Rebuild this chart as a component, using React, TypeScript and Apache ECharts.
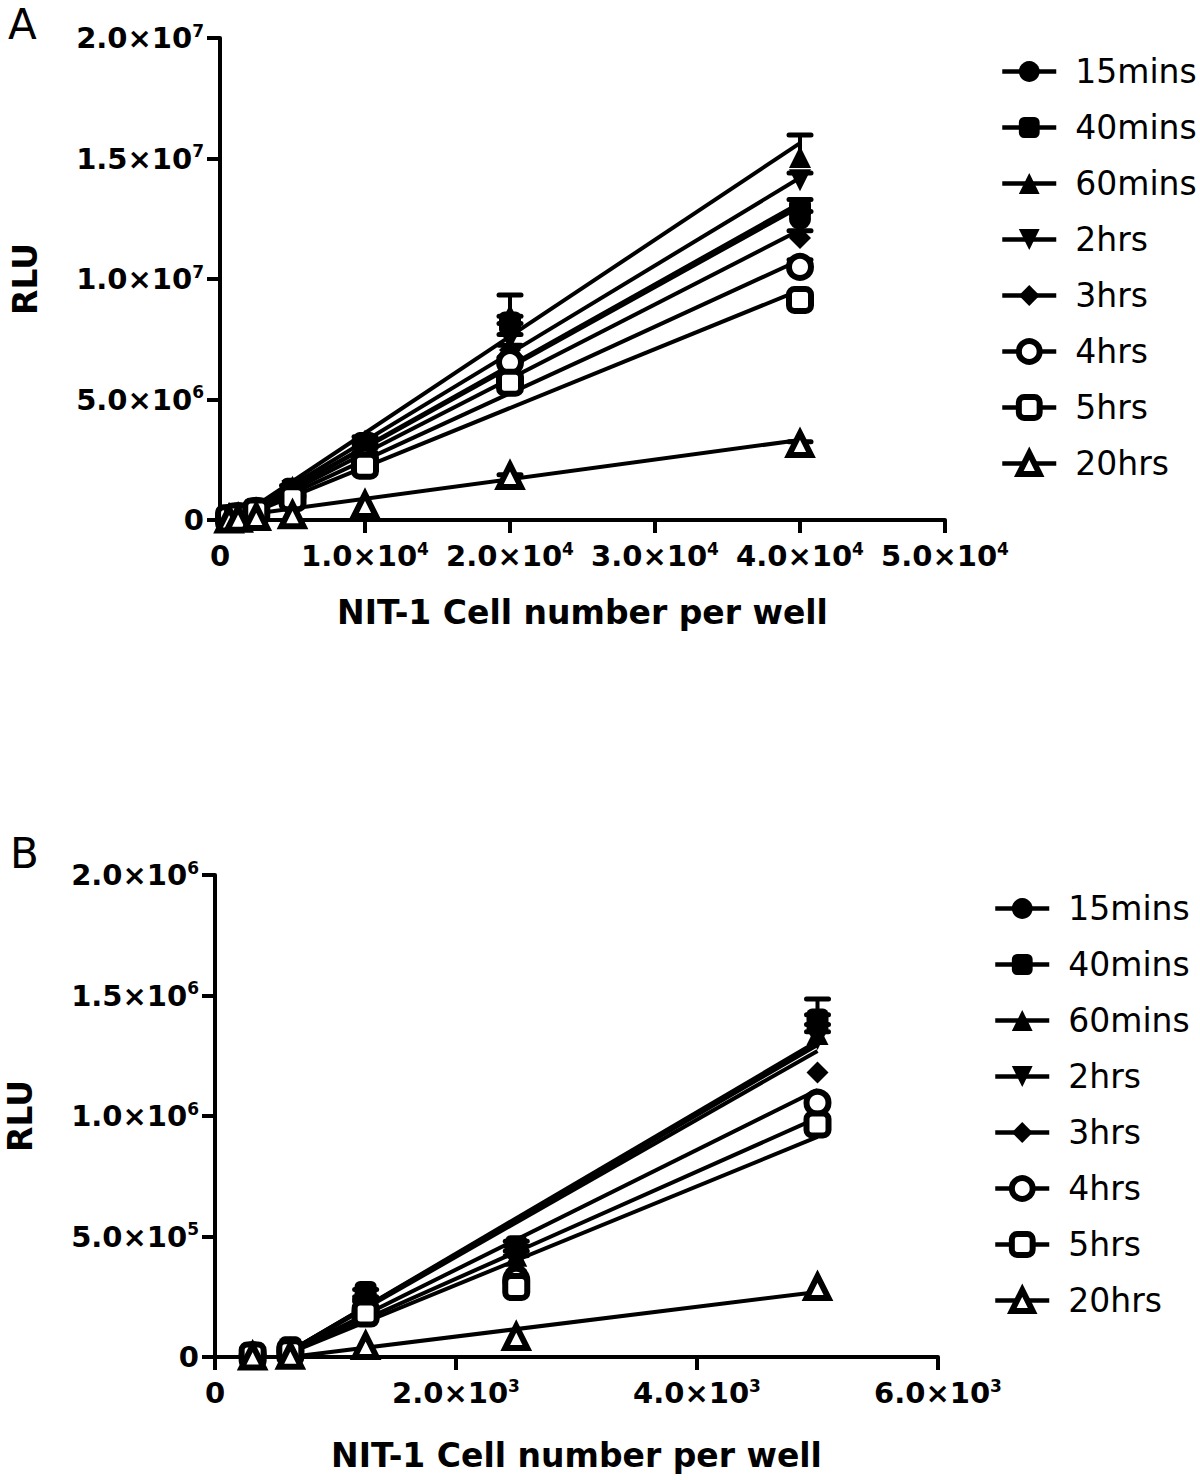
import React, { useEffect, useRef } from 'react';
import * as echarts from 'echarts';

// ---------- data ----------
const seriesNames = ['15mins', '40mins', '60mins', '2hrs', '3hrs', '4hrs', '5hrs', '20hrs'];

// Panel A: NIT-1 cell number per well (x) vs RLU
const cellsA = [625, 1250, 2500, 5000, 10000, 20000, 40000];
const rluA_15mins = [0.1e6, 0.2e6, 0.45e6, 1.25e6, 3.05e6, 7.95e6, 12.5e6];
const rluA_40mins = [0.1e6, 0.2e6, 0.47e6, 1.3e6, 3.2e6, 8.2e6, 12.9e6];
const rluA_60mins = [0.11e6, 0.22e6, 0.5e6, 1.38e6, 3.3e6, 8.5e6, 15.06e6];
const rluA_2hrs = [0.09e6, 0.18e6, 0.42e6, 1.2e6, 2.9e6, 7.5e6, 14.1e6];
const rluA_3hrs = [0.08e6, 0.17e6, 0.4e6, 1.1e6, 2.7e6, 7.05e6, 11.7e6];
const rluA_4hrs = [0.08e6, 0.16e6, 0.38e6, 1.0e6, 2.5e6, 6.55e6, 10.5e6];
const rluA_5hrs = [0.07e6, 0.15e6, 0.35e6, 0.9e6, 2.25e6, 5.7e6, 9.13e6];
const rluA_20hrs = [0.02e6, 0.05e6, 0.12e6, 0.2e6, 0.62e6, 1.83e6, 3.15e6];
// upper error (SEM)
const errA_15mins = [0, 0, 0, 0, 0.1e6, 0.2e6, 0.3e6];
const errA_40mins = [0, 0, 0, 0, 0.1e6, 0.25e6, 0.4e6];
const errA_60mins = [0, 0, 0, 0.05e6, 0.15e6, 0.84e6, 0.92e6];
const errA_2hrs = [0, 0, 0, 0, 0.1e6, 0.2e6, 0.3e6];
const errA_3hrs = [0, 0, 0, 0, 0.1e6, 0.2e6, 0.3e6];
const errA_4hrs = [0, 0, 0, 0, 0.1e6, 0.2e6, 0.3e6];
const errA_5hrs = [0, 0, 0, 0, 0.1e6, 0.2e6, 0.3e6];
const errA_20hrs = [0, 0, 0, 0, 0, 0.05e6, 0.1e6];
// linear-fit line end points (cells, RLU)
const fitA_x = [1000, 40000];
const fitA_15mins = [0, 13.0e6];
const fitA_40mins = [0, 13.15e6];
const fitA_60mins = [0, 15.64e6];
const fitA_2hrs = [0, 14.2e6];
const fitA_3hrs = [0, 12.03e6];
const fitA_4hrs = [0, 10.79e6];
const fitA_5hrs = [0, 9.54e6];
const fitA_20hrs_x = [625, 40000];
const fitA_20hrs = [0.12e6, 3.32e6];

// Panel B
const cellsB = [312.5, 625, 1250, 2500, 5000];
const rluB_15mins = [0.01e6, 0.035e6, 0.24e6, 0.44e6, 1.37e6];
const rluB_40mins = [0.01e6, 0.04e6, 0.27e6, 0.46e6, 1.4e6];
const rluB_60mins = [0.01e6, 0.035e6, 0.23e6, 0.42e6, 1.34e6];
const rluB_2hrs = [0.01e6, 0.03e6, 0.22e6, 0.4e6, 1.32e6];
const rluB_3hrs = [0.008e6, 0.03e6, 0.2e6, 0.36e6, 1.18e6];
const rluB_4hrs = [0.008e6, 0.025e6, 0.19e6, 0.32e6, 1.055e6];
const rluB_5hrs = [0.006e6, 0.02e6, 0.18e6, 0.29e6, 0.965e6];
const rluB_20hrs = [0.002e6, 0.005e6, 0.046e6, 0.083e6, 0.29e6];
const errB_15mins = [0, 0, 0.01e6, 0.02e6, 0.05e6];
const errB_40mins = [0, 0, 0.01e6, 0.02e6, 0.085e6];
const errB_60mins = [0, 0, 0.01e6, 0.02e6, 0.04e6];
const errB_2hrs = [0, 0, 0.01e6, 0.02e6, 0.03e6];
const errB_3hrs = [0, 0, 0, 0, 0];
const errB_4hrs = [0, 0, 0, 0, 0];
const errB_5hrs = [0, 0, 0, 0, 0];
const errB_20hrs = [0, 0, 0, 0, 0];
const fitB_x = [540, 5000];
const fitB_15mins = [0, 1.3e6];
const fitB_40mins = [0, 1.31e6];
const fitB_60mins = [0, 1.295e6];
const fitB_2hrs = [0, 1.27e6];
const fitB_3hrs = [0, 1.108e6];
const fitB_4hrs = [0, 0.992e6];
const fitB_5hrs = [0, 0.913e6];
const fitB_20hrs_x = [625, 5000];
const fitB_20hrs = [0, 0.27e6];

// axis ranges / ticks
const xA_max = 50000, xA_step = 10000;
const yA_max = 2e7, yA_step = 5e6;
const xB_max = 6000, xB_step = 2000;
const yB_max = 2e6, yB_step = 5e5;

const xTitle = 'NIT-1 Cell number per well';
const yTitle = 'RLU';

// ---------- styles ----------
const FONT = 'DejaVu Sans';
const symbols = ['circle', 'roundRect', 'triangle', 'path://M0,0L20,0L10,18Z', 'diamond', 'circle', 'roundRect', 'triangle'];
const hollow = [false, false, false, false, false, true, true, true];

function itemStyleFor(i: number) {
  return hollow[i]
    ? { color: '#fff', borderColor: '#000', borderWidth: 6, opacity: 1 }
    : { color: '#000', borderColor: '#000', borderWidth: 0, opacity: 1 };
}

function sci(v: number) {
  if (v === 0) return '{m|0}';
  const e = Math.floor(Math.log10(v) + 1e-9);
  const m = v / Math.pow(10, e);
  return `{m|${m.toFixed(1)}×10}{s|${e}}`;
}

const rich = {
  m: { fontSize: 29, fontWeight: 'bold', fontFamily: FONT, color: '#000', lineHeight: 32 },
  s: { fontSize: 17, fontWeight: 'bold', fontFamily: FONT, color: '#000', lineHeight: 13, verticalAlign: 'top' },
};

export default function App() {
  const ref = useRef<HTMLDivElement>(null);
  useEffect(() => {
    if (!ref.current) return;
    const chart = echarts.init(ref.current, null, { renderer: 'svg' });

    const panels = [
      {
        xs: cellsA,
        vals: [rluA_15mins, rluA_40mins, rluA_60mins, rluA_2hrs, rluA_3hrs, rluA_4hrs, rluA_5hrs, rluA_20hrs],
        errs: [errA_15mins, errA_40mins, errA_60mins, errA_2hrs, errA_3hrs, errA_4hrs, errA_5hrs, errA_20hrs],
        fitsX: [fitA_x, fitA_x, fitA_x, fitA_x, fitA_x, fitA_x, fitA_x, fitA_20hrs_x],
        fits: [fitA_15mins, fitA_40mins, fitA_60mins, fitA_2hrs, fitA_3hrs, fitA_4hrs, fitA_5hrs, fitA_20hrs],
      },
      {
        xs: cellsB,
        vals: [rluB_15mins, rluB_40mins, rluB_60mins, rluB_2hrs, rluB_3hrs, rluB_4hrs, rluB_5hrs, rluB_20hrs],
        errs: [errB_15mins, errB_40mins, errB_60mins, errB_2hrs, errB_3hrs, errB_4hrs, errB_5hrs, errB_20hrs],
        fitsX: [fitB_x, fitB_x, fitB_x, fitB_x, fitB_x, fitB_x, fitB_x, fitB_20hrs_x],
        fits: [fitB_15mins, fitB_40mins, fitB_60mins, fitB_2hrs, fitB_3hrs, fitB_4hrs, fitB_5hrs, fitB_20hrs],
      },
    ];

    const series: any[] = [];
    // fit lines first (legend picks the first series with a given name)
    panels.forEach((p, pi) => {
      seriesNames.forEach((name, i) => {
        series.push({
          type: 'line',
          name,
          xAxisIndex: pi,
          yAxisIndex: pi,
          data: p.fitsX[i].map((x, k) => [x, p.fits[i][k]]),
          showSymbol: false,
          symbol: symbols[i],
          symbolSize: 22,
          lineStyle: { color: '#000', width: 4 },
          itemStyle: itemStyleFor(i),
          silent: true,
          z: 2,
        });
      });
    });
    panels.forEach((p, pi) => {
      const errData: number[][] = [];
      seriesNames.forEach((_, i) => {
        p.xs.forEach((x, j) => {
          if (p.errs[i][j] > 0) errData.push([x, p.vals[i][j], p.vals[i][j] + p.errs[i][j]]);
        });
      });
      series.push({
        type: 'custom',
        name: 'errorbars' + pi,
        xAxisIndex: pi,
        yAxisIndex: pi,
        data: errData,
        encode: { x: 0, y: [1, 2] },
        silent: true,
        z: 3,
        renderItem: (params: any, api: any) => {
          const x = api.value(0), y = api.value(1), top = api.value(2);
          const p0 = api.coord([x, y]);
          const p1 = api.coord([x, top]);
          const hw = 11;
          return {
            type: 'group',
            children: [
              { type: 'line', shape: { x1: p0[0], y1: p0[1], x2: p1[0], y2: p1[1] }, style: { stroke: '#000', lineWidth: 4 } },
              { type: 'line', shape: { x1: p1[0] - hw, y1: p1[1], x2: p1[0] + hw, y2: p1[1] }, style: { stroke: '#000', lineWidth: 5, lineCap: 'round' } },
            ],
          };
        },
      });
      seriesNames.forEach((name, i) => {
        series.push({
          type: 'scatter',
          name,
          xAxisIndex: pi,
          yAxisIndex: pi,
          data: p.xs.map((x, j) => [x, p.vals[i][j]]),
          symbol: symbols[i],
          symbolSize: 22,
          itemStyle: itemStyleFor(i),
          silent: true,
          z: 4,
        });
      });
    });

    const axisLine = { show: true, onZero: false, lineStyle: { color: '#000', width: 4 } };
    const axisTick = { show: true, length: 13, lineStyle: { color: '#000', width: 4 } };
    const nameStyle = { fontSize: 33, fontWeight: 'bold', fontFamily: FONT, color: '#000' };

    const mkX = (gi: number, max: number, step: number, gap: number) => ({
      type: 'value', gridIndex: gi, min: 0, max, interval: step,
      axisLine, axisTick, splitLine: { show: false },
      axisLabel: { formatter: sci, rich, margin: 20, showMinLabel: true, showMaxLabel: true },
      name: xTitle, nameLocation: 'middle', nameGap: gap, nameTextStyle: nameStyle,
    });
    const mkY = (gi: number, max: number, step: number) => ({
      type: 'value', gridIndex: gi, min: 0, max, interval: step,
      axisLine, axisTick, splitLine: { show: false },
      axisLabel: { formatter: sci, rich, margin: 16, showMinLabel: true, showMaxLabel: true },
      name: yTitle, nameLocation: 'middle', nameGap: 178, nameTextStyle: nameStyle,
    });

    const legendData = seriesNames.map((name, i) => ({
      name,
      itemStyle: itemStyleFor(i),
      lineStyle: { color: '#000', width: 4.5 },
    }));
    const legendCommon = {
      orient: 'vertical',
      itemWidth: 54,
      itemHeight: 26,
      itemGap: 23,
      selectedMode: false,
      data: legendData,
      textStyle: { fontSize: 33, fontFamily: FONT, color: '#000', padding: [0, 0, 0, 14] },
    };

    chart.setOption({
      animation: false,
      backgroundColor: '#fff',
      grid: [
        { left: 220, top: 38, width: 725, height: 482, outerBoundsMode: 'none' },
        { left: 215, top: 875, width: 723, height: 482, outerBoundsMode: 'none' },
      ],
      xAxis: [mkX(0, xA_max, xA_step, 76), mkX(1, xB_max, xB_step, 82)],
      yAxis: [mkY(0, yA_max, yA_step), mkY(1, yB_max, yB_step)],
      legend: [
        { ...legendCommon, left: 995, top: 50 },
        { ...legendCommon, left: 988, top: 887 },
      ],
      graphic: [
        { type: 'text', left: 8, top: 3, style: { text: 'A', fontSize: 42, fontFamily: FONT, fill: '#000' } },
        { type: 'text', left: 10, top: 832, style: { text: 'B', fontSize: 42, fontFamily: FONT, fill: '#000' } },
      ],
      series,
    });
    return () => chart.dispose();
  }, []);
  return <div ref={ref} style={{ position: 'absolute', left: 0, top: 0, width: 1200, height: 1480 }} />;
}
